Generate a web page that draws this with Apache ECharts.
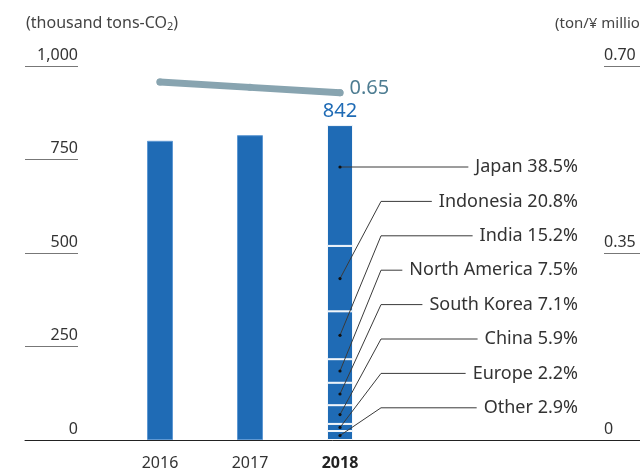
<!DOCTYPE html>
<html>
<head>
<meta charset="utf-8">
<script src="https://cdn.jsdelivr.net/npm/echarts/dist/echarts.min.js"></script>
<style>
  html, body { margin: 0; padding: 0; background: #fff; }
  #chart { width: 640px; height: 475px; }
</style>
</head>
<body>
<div id="chart"></div>
<script>
// categories (blank slots keep the year bands 90px wide across the full width)
const categories = ['', '2016', '2017', '2018', '', '', ''];
const years = ['2016', '2017', '2018'];
const totals = [800, 815, 842];            // thousand tons-CO2
const intensity = [0.67, 0.66, 0.65];      // ton / ¥ million

// 2018 breakdown, listed top to bottom as labelled
const regions = ['Japan', 'Indonesia', 'India', 'North America', 'South Korea', 'China', 'Europe', 'Other'];
const shares = [38.5, 20.8, 15.2, 7.5, 7.1, 5.9, 2.2, 2.9];
const seg2018 = [323, 175, 128, 63, 60, 50, 19, 24];

const BLUE = '#1f6bb5';
const FONT = '"Noto Sans", "Open Sans", sans-serif';

// layout of the region label column
const labelRight = 578;
const labelTop = 167;
const labelStep = 34.4;
const labelFont = '18px "Noto Sans"';

const measureCtx = document.createElement('canvas').getContext('2d');
function textWidth(t) {
    measureCtx.font = labelFont;
    return measureCtx.measureText(t).width;
}

function slot(idx, v) {
    return categories.map((c, i) => i === idx ? v : '-');
}

const chart = echarts.init(document.getElementById('chart'));

// stack goes bottom up, so walk the regions in reverse
let series = [];
series.push({
    name: 'total',
    type: 'bar',
    stack: 'a',
    barWidth: 26,
    data: categories.map(c => {
        const k = years.indexOf(c);
        return (k >= 0 && k < 2) ? totals[k] : '-';
    }),
    itemStyle: { color: BLUE, borderColor: '#5e98d3', borderWidth: 1 }
});

let cum = 0;
let leaders = [];
for (let i = regions.length - 1; i >= 0; i--) {
    const v = seg2018[i];
    let item = { value: v };
    if (i === 0) {
        item.label = {
            show: true, position: 'top', distance: 4,
            formatter: String(totals[2]),
            color: BLUE, fontSize: 20, fontFamily: FONT
        };
    }
    series.push({
        name: regions[i],
        type: 'bar',
        stack: 'a',
        barWidth: 26,
        data: slot(3, item),
        itemStyle: { color: BLUE, borderColor: 'rgba(255,255,255,0.9)', borderWidth: 1 }
    });
    leaders.push([3, cum, cum + v, i]);
    cum += v;
}

series.push({
    name: 'intensity',
    type: 'line',
    yAxisIndex: 1,
    data: categories.map((c, i) => {
        const k = years.indexOf(c);
        if (k < 0) return '-';
        if (k === 2) {
            return {
                value: intensity[k],
                label: {
                    show: true, position: 'right', distance: 6, offset: [0, -4],
                    formatter: p => p.value.toFixed(2),
                    color: '#4e7d92', fontSize: 20, fontFamily: FONT
                }
            };
        }
        return intensity[k];
    }),
    symbol: 'circle',
    symbolSize: 7,
    itemStyle: { color: '#88a4b0' },
    lineStyle: { color: '#88a4b0', width: 7, cap: 'round' },
    z: 5
});

series.push({
    name: 'leaders',
    type: 'custom',
    data: leaders,
    encode: { x: 0, y: [1, 2] },
    z: 10,
    clip: false,
    renderItem: function (params, api) {
        const i = api.value(3);
        const top = api.coord([3, api.value(2)]);
        const bot = api.coord([3, api.value(1)]);
        const cx = top[0];
        const ly = labelTop + i * labelStep;
        const text = regions[i] + ' ' + shares[i].toFixed(1) + '%';
        const tx = labelRight - textWidth(text) - 7;
        let dot, pts;
        if (ly >= top[1] && ly <= bot[1]) {
            dot = [cx, ly];
            pts = [[cx, ly], [tx, ly]];
        } else {
            dot = [cx, (top[1] + bot[1]) / 2];
            pts = [dot, [cx + 41, ly], [tx, ly]];
        }
        return {
            type: 'group',
            children: [
                { type: 'polyline', shape: { points: pts }, style: { stroke: '#3a3a3a', lineWidth: 1, fill: null } },
                { type: 'circle', shape: { cx: dot[0], cy: dot[1], r: 1.6 }, style: { fill: '#111' } },
                {
                    type: 'text',
                    style: {
                        text: text, x: labelRight, y: ly,
                        align: 'right', verticalAlign: 'middle',
                        fill: '#333', font: labelFont
                    }
                }
            ]
        };
    }
});

const option = {
    animation: false,
    textStyle: { fontFamily: FONT },
    title: [
        {
            text: '{a|(thousand tons-CO}{s|2}{a|)}',
            left: 21, top: 10,
            textStyle: {
                fontWeight: 'normal',
                rich: {
                    a: { fontSize: 16, fontWeight: 'normal', color: '#444', fontFamily: FONT },
                    s: { fontSize: 11, fontWeight: 'normal', color: '#444', fontFamily: FONT, padding: [6, 0, 0, 0] }
                }
            }
        },
        {
            text: '(ton/¥ million)',
            left: 550, top: 11,
            textStyle: { fontSize: 15, fontWeight: 'normal', color: '#444', fontFamily: FONT }
        }
    ],
    grid: { left: 25, width: 630, top: 66, bottom: 35, outerBoundsMode: 'none', containLabel: false },
    xAxis: {
        type: 'category',
        data: categories,
        axisLine: { lineStyle: { color: '#222', width: 1 } },
        axisTick: { show: false },
        axisLabel: {
            margin: 15,
            fontSize: 16,
            color: '#333',
            formatter: v => v === '2018' ? '{b|2018}' : v,
            rich: { b: { fontSize: 16, fontWeight: 'bold', color: '#222' } }
        },
        z: 5
    },
    yAxis: [
        {
            type: 'value',
            min: 0, max: 1000, interval: 250,
            axisLine: { show: false },
            splitLine: { show: false },
            axisTick: { show: true, inside: true, length: 53, lineStyle: { color: '#777', width: 1.2 } },
            axisLabel: {
                inside: true, margin: 53, align: 'right', verticalAlign: 'bottom',
                padding: [0, 0, 3, 0],
                fontSize: 16, color: '#333',
                formatter: v => v.toLocaleString('en-US')
            }
        },
        {
            type: 'value',
            position: 'right',
            min: 0, max: 0.7, interval: 0.35,
            axisLine: { show: false },
            splitLine: { show: false },
            axisTick: { show: true, inside: true, length: 51, lineStyle: { color: '#777', width: 1.2 } },
            axisLabel: {
                inside: true, margin: 51, align: 'left', verticalAlign: 'bottom',
                padding: [0, 0, 3, 0],
                fontSize: 16, color: '#333',
                formatter: v => v === 0 ? '0' : v.toFixed(2)
            }
        }
    ],
    series: series
};

chart.setOption(option);
window.addEventListener('resize', chart.resize);
</script>
</body>
</html>
